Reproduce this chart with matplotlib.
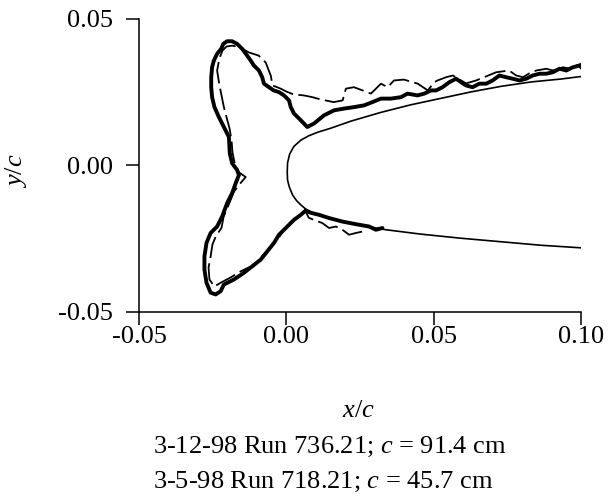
import matplotlib
matplotlib.use("Agg")
import matplotlib.pyplot as plt

plt.rcParams["font.family"] = ["Liberation Serif", "DejaVu Serif"]
plt.rcParams["mathtext.fontset"] = "custom"
plt.rcParams["mathtext.rm"] = "Liberation Serif"
plt.rcParams["mathtext.it"] = "Liberation Serif:italic"

# airfoil contour, upper trailing end -> leading edge -> lower trailing end
airfoil_x = [0.1004, 0.0933, 0.0831, 0.0729, 0.0627, 0.0525, 0.0423, 0.0321,
             0.0219, 0.0151, 0.0106, 0.0076, 0.0049, 0.0025, 0.0011, 0.0004,
             0.0003, 0.0004, 0.0010, 0.0021, 0.0035, 0.0049, 0.0069, 0.0100,
             0.0151, 0.0202, 0.0270, 0.0338, 0.0457, 0.0593, 0.0729, 0.0865,
             0.1004]
airfoil_y = [0.0304, 0.0295, 0.0285, 0.0270, 0.0251, 0.0229, 0.0207, 0.0181,
             0.0151, 0.0127, 0.0113, 0.0101, 0.0086, 0.0064, 0.0038, 0.0008,
             -0.0023, -0.0050, -0.0074, -0.0101, -0.0121, -0.0135, -0.0152, -0.0167,
             -0.0183, -0.0194, -0.0208, -0.0220, -0.0235, -0.0249, -0.0261, -0.0273,
             -0.0282]

# ice tracing, 3-12-98 Run 736.21 (c = 91.4 cm), heavy solid line
run736_x = [0.1006, 0.0995, 0.0972, 0.0950, 0.0927, 0.0904, 0.0882, 0.0859,
            0.0836, 0.0814, 0.0791, 0.0768, 0.0746, 0.0723, 0.0700, 0.0678,
            0.0655, 0.0632, 0.0610, 0.0593, 0.0576, 0.0553, 0.0530, 0.0508,
            0.0491, 0.0468, 0.0445, 0.0411, 0.0389, 0.0355, 0.0321, 0.0292,
            0.0264, 0.0230, 0.0196, 0.0162, 0.0128, 0.0094, 0.0071, 0.0049,
            0.0026, 0.0015, 0.0009, -0.0008, -0.0025, -0.0043, -0.0059, -0.0076,
            -0.0082, -0.0093, -0.0110, -0.0121, -0.0133, -0.0150, -0.0167, -0.0184,
            -0.0201, -0.0214, -0.0221, -0.0235, -0.0246, -0.0252, -0.0255, -0.0255,
            -0.0252, -0.0244, -0.0229, -0.0212, -0.0195, -0.0192, -0.0184, -0.0167,
            -0.0161, -0.0172, -0.0184, -0.0201, -0.0218, -0.0235, -0.0257, -0.0271,
            -0.0278, -0.0278, -0.0271, -0.0257, -0.0240, -0.0223, -0.0212, -0.0178,
            -0.0144, -0.0116, -0.0087, -0.0065, -0.0042, -0.0025, 0.0003, 0.0026,
            0.0049, 0.0066, 0.0083, 0.0111, 0.0145, 0.0190, 0.0236, 0.0281,
            0.0304, 0.0326]
run736_y = [0.0330, 0.0341, 0.0335, 0.0324, 0.0330, 0.0318, 0.0313, 0.0313,
            0.0307, 0.0296, 0.0290, 0.0296, 0.0301, 0.0307, 0.0290, 0.0279,
            0.0279, 0.0267, 0.0273, 0.0284, 0.0296, 0.0284, 0.0267, 0.0256,
            0.0256, 0.0245, 0.0239, 0.0245, 0.0233, 0.0228, 0.0228, 0.0216,
            0.0205, 0.0199, 0.0194, 0.0188, 0.0171, 0.0143, 0.0131, 0.0154,
            0.0177, 0.0199, 0.0222, 0.0239, 0.0250, 0.0256, 0.0267, 0.0279,
            0.0301, 0.0324, 0.0341, 0.0358, 0.0375, 0.0398, 0.0415, 0.0424,
            0.0424, 0.0415, 0.0398, 0.0381, 0.0358, 0.0335, 0.0301, 0.0267,
            0.0233, 0.0199, 0.0165, 0.0131, 0.0097, 0.0041, 0.0007, -0.0016,
            -0.0033, -0.0061, -0.0095, -0.0129, -0.0175, -0.0209, -0.0231, -0.0265,
            -0.0311, -0.0356, -0.0401, -0.0435, -0.0441, -0.0430, -0.0407, -0.0390,
            -0.0367, -0.0345, -0.0322, -0.0294, -0.0265, -0.0237, -0.0209, -0.0186,
            -0.0169, -0.0154, -0.0162, -0.0169, -0.0180, -0.0192, -0.0201, -0.0209,
            -0.0220, -0.0214]

# ice tracing, 3-5-98 Run 718.21 (c = 45.7 cm), dashed line
run718_x = [0.1001, 0.0984, 0.0960, 0.0939, 0.0905, 0.0882, 0.0848, 0.0824,
            0.0803, 0.0780, 0.0756, 0.0712, 0.0678, 0.0644, 0.0610, 0.0593,
            0.0565, 0.0542, 0.0513, 0.0501, 0.0480, 0.0446, 0.0399, 0.0365,
            0.0344, 0.0321, 0.0287, 0.0259, 0.0229, 0.0202, 0.0191, 0.0161,
            0.0117, 0.0088, 0.0059, 0.0025, -0.0002, -0.0019, -0.0047, -0.0053,
            -0.0070, -0.0094, -0.0128, -0.0155, -0.0183, -0.0203, -0.0217, -0.0227,
            -0.0235, -0.0227, -0.0220, -0.0212, -0.0203, -0.0193, -0.0186, -0.0183,
            -0.0176, -0.0162, -0.0138, -0.0155, -0.0178, -0.0189, -0.0200, -0.0213,
            -0.0220, -0.0240, -0.0251, -0.0257, -0.0264, -0.0261, -0.0244, -0.0223,
            -0.0189, -0.0155, -0.0128, -0.0111, -0.0087, -0.0067, -0.0047, -0.0030,
            -0.0013, 0.0015, 0.0042, 0.0066, 0.0076, 0.0100, 0.0122, 0.0145,
            0.0168, 0.0190, 0.0213, 0.0236, 0.0259]
run718_y = [0.0347, 0.0341, 0.0331, 0.0335, 0.0324, 0.0330, 0.0324, 0.0314,
            0.0301, 0.0307, 0.0324, 0.0318, 0.0304, 0.0290, 0.0280, 0.0290,
            0.0307, 0.0301, 0.0290, 0.0283, 0.0256, 0.0279, 0.0293, 0.0290,
            0.0267, 0.0279, 0.0245, 0.0256, 0.0267, 0.0262, 0.0222, 0.0216,
            0.0225, 0.0233, 0.0239, 0.0242, 0.0253, 0.0262, 0.0273, 0.0307,
            0.0351, 0.0375, 0.0386, 0.0402, 0.0409, 0.0406, 0.0392, 0.0365,
            0.0324, 0.0273, 0.0239, 0.0199, 0.0164, 0.0127, 0.0086, 0.0045,
            0.0011, -0.0023, -0.0040, -0.0060, -0.0090, -0.0118, -0.0145, -0.0176,
            -0.0213, -0.0244, -0.0271, -0.0311, -0.0349, -0.0390, -0.0414, -0.0401,
            -0.0383, -0.0362, -0.0349, -0.0345, -0.0315, -0.0295, -0.0271, -0.0254,
            -0.0227, -0.0196, -0.0172, -0.0158, -0.0179, -0.0189, -0.0197, -0.0214,
            -0.0209, -0.0220, -0.0237, -0.0231, -0.0226]

legend_lines = ["3-12-98 Run 736.21; $c$ = 91.4 cm",
                "3-5-98 Run 718.21; $c$ = 45.7 cm"]

FS = 19

fig = plt.figure(figsize=(6.10, 5.01), dpi=100)
ax = fig.add_axes([0.2279, 0.3778, 0.7246, 0.5843])

ax.plot(airfoil_x, airfoil_y, color="black", lw=1.2)
ax.plot(run718_x, run718_y, color="black", lw=1.3, dashes=(12, 3))
ax.plot(run736_x, run736_y, color="black", lw=2.8,
        solid_joinstyle="round", solid_capstyle="round")

ax.set_xlim(-0.05, 0.10)
ax.set_ylim(-0.05, 0.05)
ax.set_xticks([-0.05, 0.0, 0.05, 0.10])
ax.set_yticks([-0.05, 0.0, 0.05])
ax.set_xticklabels(["-0.05", "0.00", "0.05", "0.10"])
ax.set_yticklabels(["-0.05", "0.00", "0.05"])

for side in ["top", "right"]:
    ax.spines[side].set_visible(False)
for side in ["left", "bottom"]:
    ax.spines[side].set_linewidth(1.1)
ax.tick_params(axis="both", direction="out", length=9.5, width=1.1, labelsize=FS)
ax.tick_params(axis="x", pad=1)
ax.tick_params(axis="y", pad=9)

# axis titles placed as figure text
fig.text(0.587, 0.1796, "$x/c$", fontsize=FS, ha="center", va="center")
fig.text(0.026, 0.660, "$y/c$", fontsize=FS, ha="center", va="center", rotation=90)

fig.text(0.2508, 0.0952, legend_lines[0], fontsize=FS, va="baseline")
fig.text(0.2508, 0.0266, legend_lines[1], fontsize=FS, va="baseline")

fig.savefig("out.png", dpi=100)
